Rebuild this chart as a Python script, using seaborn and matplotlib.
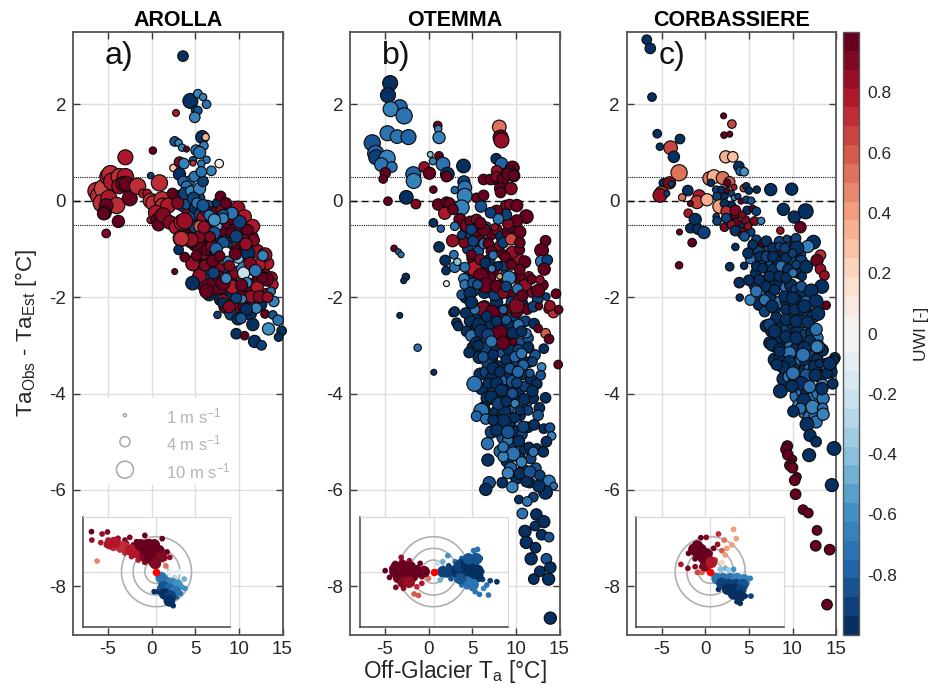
import numpy as np
import matplotlib
matplotlib.use('Agg')
import matplotlib.pyplot as plt
from matplotlib.cm import ScalarMappable
from matplotlib.colors import Normalize
from matplotlib.patches import Rectangle
import seaborn as sns

# panel a, Arolla
a_temp = [3.6,4.45,5.3,5.9,6.3,5.05,5.3,4.95,2.8,5.8,6.2,6.0,2.65,3.1,3.5,4.0,5.1,5.5,0.15,-3.0,
          4.75,6.3,7.75,2.5,3.2,3.7,4.75,5.7,6.85,-0.1,-6.3,-6.0,-5.5,-5.0,-4.7,-4.5,-5.7,-5.0,-4.9,-4.0,
          -3.7,-3.0,-3.7,-3.2,-2.9,-2.5,-1.6,-5.2,-5.4,-5.5,-3.8,-5.2,-1.0,-0.5,0.9,-0.1,0.2,1.2,1.3,1.9,
          -0.1,0.5,0.7,0.8,1.3,2.1,2.8,3.5,3.8,3.4,4.5,5.5,5.8,2.4,3.0,7.9,8.55,9.9,10.65,11.6,
          11.0,11.65,13.0,12.35,13.9,13.2,12.35,12.1,11.4,12.35,9.25,8.2,6.3,5.5,4.7,6.15,5.15,3.8,2.65,4.55,
          3.4,5.8,5.5,6.3,9.1,7.6,8.2,10.65,9.3,10.1,9.2,8.2,7.1,8.2,6.15,7.6,7.2,8.2,8.55,9.6,
          9.95,10.55,12.75,11.05,8.75,7.1,8.55,4.7,3.1,9.7,10.9,13.7,14.0,12.0,10.85,10.4,9.7,8.2,7.55,10.25,
          11.6,13.0,13.9,14.5,14.9,13.4,14.55,9.7,10.65,11.8,12.6,3.2,3.6,4.0,3.8,4.5,5.5,5.9,5.7,4.8,
          5.2,6.2,6.6,7.2,6.9,6.0,7.4,7.0,8.9,9.6,10.8,11.3,12.7,13.3,11.9,10.3,7.8,6.7,5.9,8.9]
a_diff = [3.0,2.07,2.22,2.15,2.0,1.88,1.87,1.73,1.82,1.32,1.32,1.14,1.23,1.2,1.1,1.07,1.05,1.0,1.04,0.9,
          0.84,0.85,0.77,0.68,0.8,0.77,0.78,0.77,0.62,0.52,0.2,0.1,0.25,0.5,0.55,0.4,-0.05,-0.1,0.05,-0.1,
          0.5,0.5,0.3,0.35,0.35,0.05,0.3,-0.1,-0.25,-0.27,-0.43,-0.68,0.15,0.15,0.37,0.0,-0.05,0.02,-0.1,-0.1,
          -0.4,-0.25,-0.4,-0.5,-0.3,-0.45,-0.55,-0.45,-0.42,-0.78,-0.82,-0.75,-0.5,0.15,-0.05,0.09,-0.05,-0.15,-0.33,-0.53,
          -0.62,-0.82,-1.12,-1.33,-1.74,-1.63,-1.57,-1.8,-1.99,-1.99,-1.79,-2.07,-1.88,-1.56,-1.31,-1.34,-1.14,-1.17,-1.47,-0.81,
          -0.79,-0.33,-0.53,-1.02,-0.67,-1.57,-1.71,-0.81,-0.39,-0.44,-0.26,-0.29,-0.42,-0.37,-0.15,-0.53,-0.67,-0.88,-1.07,-1.29,
          -1.19,-1.5,-1.14,-1.09,-1.26,-1.5,-1.61,-1.71,-1.02,-0.74,-1.7,-1.88,-2.09,-2.23,-2.26,-2.04,-2.02,-2.12,-2.37,-2.44,
          -2.57,-2.35,-2.37,-2.48,-2.7,-2.66,-2.83,-2.76,-2.8,-2.92,-3.0,0.55,0.4,0.3,0.15,0.2,0.25,0.4,0.6,0.05,
          -0.05,-0.2,-0.3,-0.4,-0.95,-0.55,-1.0,-1.25,-1.35,-1.1,-0.9,-1.3,-1.6,-2.0,-1.45,-1.75,-1.15,-0.75,-0.1,-2.2]
a_wind = [3,6,2,1.5,2,2,2,3,1.3,4.5,1.5,2,2.5,1.5,1.5,1,3,4,1.5,6,
          1.5,1.5,2,1.5,3,3,1,1.5,2.5,1.2,8,8,9,7,8,8,8,7,7,7,
          7,7,6,6,6,6,7,5,5,4,4,2,2,2,7,6,6,7,6,6,
          1.5,6,5,4,6,5,5,7,7,7,6,4,3,3,4,3,3,5,5,5,
          4,4,5,4,3,5,5,4,4,4,5,4,5,5,5,3.5,3,2.5,0.8,5,
          6,3,3.5,3,3,4,5,3,3,4.5,4,3,4,3,2,2,4,4,3,1.5,
          3,4,3,5,3,3.5,3,5,2.5,4,3,2,3,3,4,2,3,3,1.5,3,
          4,2,2,3,2.5,4,2,3,2,4,2.5,4,3,3,4,3,4,3,3,4,
          3,3,3,4,4,4,4,4,3,4,4,4,3,3,4,4,3,3,4,4]
a_uwi = [-.95,-.95,-.65,-.65,-.7,-.9,-.85,-.65,.75,-.95,.35,-.65,-.85,-.65,-.65,.95,-.7,-.7,.98,.8,
         -.85,-.7,.02,.25,.9,-.65,.7,-.7,-.65,-.9,.7,.7,.68,.75,.72,.78,.7,.75,.75,.7,
         .72,.75,.85,.9,.95,.95,.7,.95,.98,1,.98,.9,.75,.75,.72,.7,.7,.7,.72,.75,
         .75,.8,.95,.98,.9,.9,.8,.75,.85,.7,.8,.9,.7,.95,.9,.98,.95,.85,.75,.75,
         .95,.9,.85,.75,.75,.95,.98,.8,.85,.9,.75,.85,.98,.85,.85,.9,.98,.98,.98,.85,
         .72,.85,.6,.98,.98,.98,.98,.9,.95,-.9,-.75,-.85,-.6,-.65,-.7,-.5,-.85,-.85,-.05,-.15,
         -.4,-.25,-.65,-.95,-.65,-.9,-.65,-.95,-.95,-.9,-.65,-.75,-.65,-.65,-.95,-.65,-.9,-.95,-.9,-.85,
         -.95,.95,-.85,-.75,-.95,-.6,-.95,-.95,.98,-.95,-.9,-.95,-.8,-.7,-.9,-.65,-.65,-.9,-.7,-.9,
         -.7,-.9,-.75,-.6,.9,.85,-.8,.95,.9,.95,.85,.9,.95,.85,-.7,.95,.98,.9,-.85,.9]

a_more_temp = [3.1,3.6,4.2,4.7,5.3,5.9,6.4,7.0,7.6,8.1, 4.4,5.0,5.6,6.2,6.8,7.4,8.0,8.6,9.2,9.8,
               4.9,5.5,6.1,6.7,7.3,7.9,8.5,9.1,9.7,10.3, 6.0,6.6,7.2,7.8,8.4,9.0,9.6,10.2,10.8,11.4,
               7.9,8.5,9.1,9.7,10.3,10.9,11.5,12.1,12.7,13.3, 9.1,9.9,10.6,11.3,11.9,12.5,13.1,13.7,10.5,11.2,
               3.4,4.0,4.5,5.0,3.8,4.4,5.0,5.6,6.2,6.8, 4.3,4.9,5.5,6.1,5.3,5.9,6.5,7.1,7.7,8.3]
a_more_diff = [.1,-.1,-.25,-.35,-.5,-.55,-.1,-.25,-.05,-.2, -.65,-.9,-.7,-.8,-1,-.75,-.6,-.45,-.75,-.55,
               -1.25,-1.4,-1.15,-1.55,-1.3,-1.1,-.95,-1.25,-1.05,-.8, -1.75,-1.95,-1.7,-1.85,-1.45,-1.6,-1.5,-1.25,-1.05,-.75,
               -2.05,-2.2,-2.0,-2.25,-1.95,-1.75,-1.4,-1.05,-1.45,-1.3, -2.35,-2.45,-2.2,-2.35,-2.05,-2.15,-1.95,-1.6,-1.4,-1.75,
               .05,-.05,.1,-.15,-.65,-.75,-.55,-.3,-.35,-.6, .4,.5,.05,-.15,-.95,-1.1,-.75,-.95,-1.4,-1.2]
a_more_wind = [3,4,4,5,4,5,3,4,3,4, 5,5,4,5,4,5,5,4,5,5,
               4,5,5,5,5,5,5,4,5,5, 5,4,5,5,5,5,4,5,5,5,
               4,5,5,4,5,5,5,5,5,4, 4,4,4,4,4,4,4,4,5,5,
               4,4,3,4,5,5,4,4,4,4, 3,3,3,3,4,4,4,4,4,4]
a_more_uwi = [.95,-.9,.9,-.85,.95,-.9,-.8,.95,-.95,.9, .9,.95,-.9,.98,.85,-.95,.95,.98,-.9,.95,
              .95,.9,.98,-.9,.95,.9,-.9,.98,.95,.9, .95,-.95,.98,.95,-.85,.98,.9,-.9,.98,.85,
              -.95,.95,-.95,.9,.98,-.9,.95,.85,.9,.8, -.9,-.95,.95,-.95,-.85,-.95,.9,.85,-.65,.95,
              -.9,-.85,-.7,-.95,.9,.95,-.9,-.85,-.7,-.85, -.7,-.75,-.9,-.9,.98,.9,.95,-.8,.9,.65]

# panel b, Otemma
b_temp = [-4.4,-4.65,-3.3,-4.35,-2.8,-4.7,-3.6,-2.3,-6.45,-6.05,-6.0,-4.75,-5.4,-4.2,-4.95,-5.2,-1.75,-1.7,-2.55,-4.65,
          -1.45,-0.5,0.1,0.5,0.2,1.2,1.65,2.15,2.05,1.05,1.1,1.2,8.1,8.25,8.35,4.0,7.75,8.35,9.6,9.3,
          9.75,8.8,7.8,7.6,6.3,7.1,7.8,8.55,9.1,9.75,8.25,9.45,8.25,0.55,4.05,4.15,4.15,3.8,3.0,5.5,
          6.3,6.0,1.1,2.05,2.4,1.85,2.8,8.85,9.3,10.1,11.2,10.1,9.1,8.85,7.8,7.1,8.0,0.55,1.4,3.6,
          3.0,4.45,5.3,6.35,7.6,10.45,2.75,4.05,6.35,8.55,9.45,13.4,12.95,12.95,13.6,13.25,1.2,-3.95,-3.45,-3.15,
          1.9,2.0,3.0,3.3,2.9,-2.6,-2.85,2.05,-3.3,-1.25,0.6,5.25,6.0,10.3,9.6,11.0,6.55,6.25,7.3,8.15,
          8.55,9.2,11.1,12.55,14.6,14.3,14.9,13.4,13.8,12.55,10.1,4.75,5.5,4.9,5.9,3.8,5.1,6.85,7.2,4.9,
          5.9,6.5,7.4,8.45,8.8,8.0,7.25,8.15,4.15,4.05,4.15,3.8,5.1,4.75,5.6,7.8,8.55,8.9,10.2,10.75,
          11.5,10.55,11.8,12.75,12.0,12.65,13.5,13.9,10.45,9.5,10.45,10.45,2.8,3.0,3.2,3.4,4.35,4.9,4.25,5.3,
          4.9,5.75,6.05,6.8,7.2,5.5,6.65,7.8,8.9,8.55,10.3,11.2,10.65,9.7,11.45,13.2,10.3,4.65,5.7,6.85,
          12.95,12.85,11.4,11.9,11.9,13.4,10.95,6.05,5.5,6.55,8.65,8.55,12.55,11.4,13.2,13.9,14.1,13.5,13.15,11.5,
          6.75,6.8,9.1,7.8,9.7,8.55,10.65,9.1,10.45,11.6,12.75,13.8,14.35,13.4,12.65,6.95,6.55,8.45,9.6,11.2,
          12.0,10.35,11.3,10.75,12.35,13.2,12.2,11.05,12.95,13.8,11.2,12.25,11.75,13.5,13.95,12.75,12.05,13.75,13.95,14.85,
          6.25,7.4,8.9,9.9,10.65,10.85,11.6,7.4,8.15,9.3,10.25,6.85,7.8,8.35,9.6,10.1,7.2,8.0,8.9,9.9,
          9.9,10.85,10.45,7.4,9.1,10.35,8.55,12.0,5.25]
b_diff = [2.44,2.19,1.94,1.9,1.76,1.4,1.33,1.32,1.2,.98,.9,.88,.75,.7,.58,.45,.55,.41,.07,-.01,
          -.07,.7,.57,.82,.96,.93,.76,.55,.5,1.56,1.49,1.31,1.53,1.31,1.25,.72,.87,.77,.68,.6,
          .52,.55,.62,.44,.44,.44,.5,.45,.55,.52,.25,.25,.17,.23,.39,.27,.1,-.14,.22,.06,
          .11,-.12,-.08,-.03,-.05,-.26,-.18,-.1,-.08,-.1,-.33,-.42,-.48,-.29,-.22,-.25,-.38,-.46,-.58,-.39,
          -.53,-.52,-.43,-.6,-.55,-.65,-.83,-.87,-.89,-.87,-.8,-.83,-1.03,-1.26,-1.23,-1.42,-.96,-.99,-1.06,-1.12,
          -1.24,-1.45,-1.38,-1.27,-1.12,-1.58,-1.66,-1.72,-2.38,-3.05,-3.56,-1.41,-1.56,-1.21,-1.07,-1.27,-1.76,-2.25,-2.31,-2.73,
          -2.95,-1.6,-1.74,-1.87,-1.93,-2.32,-2.26,-2.75,-2.87,-2.65,-2.18,-.43,-.39,-.6,-.46,-.71,-.84,-.89,-1.05,-1.12,
          -1.22,-1.29,-1.13,-1.11,-1.17,-1.35,-1.41,-1.57,-1.38,-1.62,-1.74,-1.95,-1.71,-1.92,-1.74,-1.78,-1.92,-1.78,-1.83,-1.97,
          -1.57,-1.57,-1.63,-1.64,-2.2,-2.19,-1.99,-2.18,-1.43,-1.33,-1.02,-.87,-2.32,-2.3,-2.53,-2.6,-2.71,-2.8,-2.33,-2.26,
          -2.11,-2.57,-2.71,-2.78,-2.92,-2.95,-2.4,-2.5,-2.47,-2.26,-2.57,-2.75,-2.71,-2.93,-3.05,-3.07,-3.09,-3.15,-3.0,-3.34,
          -3.45,-3.62,-3.04,-3.34,-3.95,-4.09,-4.12,-4.36,-4.47,-4.53,-4.36,-4.59,-4.45,-4.35,-4.73,-4.71,-4.88,-5.0,-5.21,-5.11,
          -5.04,-5.38,-4.97,-4.76,-5.25,-5.31,-5.42,-5.65,-5.66,-5.63,-5.7,-5.82,-5.92,-6.05,-5.92,-5.85,-5.99,-5.85,-5.94,-5.83,
          -6.15,-6.2,-6.24,-6.49,-6.51,-6.66,-6.75,-6.86,-6.93,-6.98,-7.09,-7.2,-7.43,-7.43,-7.61,-7.69,-7.85,-7.85,-8.66,-3.4,
          -3.24,-3.2,-3.3,-3.24,-3.17,-3.41,-3.58,-3.48,-3.55,-3.48,-3.55,-3.79,-3.79,-3.93,-4.0,-3.78,-4.07,-4.21,-4.17,-4.21,
          -4.5,-4.69,-4.35,-4.55,-4.8,-4.99,-5.11,-5.21,-3.8]
b_wind = [6,6,6,6,7,6,5,6,7,7,6,7,5,3,3,2,6,6,5,2,
          2.5,3,4,1.5,1,2,5,5,3,2,1.5,4,5,6,6,5,3,4,5,4,
          4,4,3,3,3,3,3,4,4,3,4,4,3,1.5,4,5,6,6,1.5,2.5,
          3,3.5,3.5,3,3,4,3,3,3,4,5,4,3,3.5,4,3,3,2,1.5,4,
          2,5,4,4,1.5,4,4,3,3,3,3.5,3,5,4,3,4,3,1.2,1,1,
          3,2,3,1.5,2,1.5,1,1,1,1.5,1,6,6,3.5,4,4,6,6,5,6,
          5,5,4,4.5,2.5,3,2,2.5,2.5,2,6,3,3,3,3.5,2,3,3,3,2.5,
          3,3,2,2.5,3,2,1.5,1,2.5,3,2.5,2.5,3,4,2.5,4,3,3,3,3.5,
          2.5,2,2.5,2,3,1.5,1.5,3,3,3,2.5,3,2,2.5,2.5,2.5,3,3.5,3,2.5,
          4,4.5,5,4,3.5,4,3,3,2.5,2,3,2.5,3,1.5,3,2.5,3,3,3,5,
          2,2.5,3,2.5,3.5,3,3.5,6,3,3,4.5,6,3,2.5,2.5,2.5,2,3,3,2.5,
          4,4,3,4,5,3,3,3.5,3.5,4,3,4,1.5,5,4,4,4,3,3.5,3,
          2.5,2,2.5,3,3.5,4,2.5,4,3,2.5,4,3,4,3,3.5,3,3,4,4,2,
          3,3,3,3,3,3,2,4,3,3,3.5,3,4,4,3,3,4,4,3,2,
          3,3.5,2.5,3,4.5,3.5,3,2.5,6]
b_uwi = [-.95,-.95,-.8,-.65,-.75,-.75,-.7,-.8,-.85,-.8,-.9,-.65,-.7,-.7,.95,.98,-.8,-.65,-.95,.98,
         .9,.85,.95,-.65,-.4,.98,-.7,-.95,.98,.98,-.65,-.65,.5,.95,.85,-.95,-.95,-.8,.95,.98,
         .98,.95,.85,.98,.95,.98,.9,.98,.95,.98,.95,.9,.98,.98,-.9,-.75,-.65,-.65,-.8,.95,
         .95,-.85,.98,.95,.98,.75,.98,.9,.9,.98,.95,.98,.9,-.9,.95,-.9,-.75,-.95,-.8,.98,
         -.7,.9,.98,.95,.85,.98,.85,.9,-.75,-.9,.65,.98,.98,-.75,-.9,.98,-.95,.98,-.8,-.7,
         -.95,-.95,-.75,-.4,-.75,-.95,-.95,.02,-.95,-.7,-.95,.75,.98,.8,.85,.98,.98,.9,.98,.98,
         .95,-.65,.85,.98,.98,.7,.98,.6,.95,.98,.9,.98,.9,-.9,.95,-.9,-.9,.98,.95,.98,
         .9,-.95,-.7,.98,.98,-.95,-.65,.4,-.7,-.65,-.7,-.85,-.85,-.95,-.85,.98,.9,-.9,-.7,.98,
         .9,.98,.98,.85,-.9,.95,-.9,.85,.95,.98,.98,.98,-.85,-.95,-.95,-.95,-.95,-.7,-.95,-.7,
         -.95,-.95,-.95,-.9,-.7,-.95,-.95,-.95,-.85,-.8,-.75,-.7,-.95,.98,-.95,-.95,-.9,-.95,-.95,-.9,
         -.65,-.85,-.95,-.9,-.95,-.95,-.95,-.7,-.8,-.75,-.95,-.95,-.85,-.9,-.95,-.85,-.65,-.95,-.95,-.95,
         -.75,-.95,-.7,-.95,-.7,-.65,-.65,-.65,-.95,-.85,-.9,-.75,-.7,-.95,-.95,-.85,-.95,-.95,-.65,-.95,
         -.9,-.95,-.7,-.75,-.95,-.95,-.95,-.95,-.95,-.85,-.95,-.95,-.95,-.85,-.95,-.95,-.95,-.95,-.95,.98,
         -.85,-.95,-.95,-.8,-.7,-.8,-.85,-.95,-.95,-.85,-.8,-.95,-.95,-.95,-.85,-.9,-.95,-.9,-.95,-.65,
         -.95,-.9,-.95,-.95,-.85,-.95,-.7,-.7,-.75]

b_more_temp = [4.3,5.0,5.7,6.4,7.1,7.8,8.5,9.2,9.9,10.6, 4.8,5.5,6.2,6.9,7.6,8.3,9,9.7,10.4,11.1,
               5.1,5.8,6.5,7.2,7.9,8.6,9.3,10,10.7,11.4, 5.9,6.6,7.3,8,8.7,9.4,10.1,10.8,11.5,12.2,
               6.1,6.8,7.5,8.2,8.9,9.6,10.3,11,11.7,12.4, 6.3,7,7.7,8.4,9.1,9.8,10.5,11.2,12,12.7,
               7.2,7.9,8.6,9.3,10,10.7,11.4,12.1,8.2,9.0, 9.6,10.3,11,11.7,12.4,9.4,10.1,10.9,11.6,12.3,
               4.2,4.8,5.4,6,6.6,7.2,7.8,8.4,9,9.6, 4.5,5.1,5.7,6.3,6.9,7.5,8.1,8.7,9.3,9.9,
               4.6,5.2,5.8,6.4,7,7.6,8.2,8.8,9.4,10, 8.9,9.5,10.1,10.7,11.3,11.9,12.5,13.1,13.7,12.1]
b_more_diff = [-2.0,-2.15,-2.35,-2.2,-2.45,-2.1,-2.3,-2.6,-2.4,-2.2, -2.5,-2.65,-2.9,-2.55,-2.8,-2.6,-2.9,-2.75,-2.95,-2.5,
               -3.05,-3.25,-3.05,-3.3,-3.05,-3.15,-3.1,-3.35,-3.3,-2.85, -3.6,-3.55,-3.7,-3.45,-3.7,-3.6,-3.3,-3.6,-3.35,-3.2,
               -3.9,-4.1,-3.95,-4.1,-3.95,-3.75,-3.95,-3.85,-3.7,-3.8, -4.3,-4.45,-4.4,-4.5,-4.3,-4.15,-4.45,-4.2,-4.1,-4.3,
               -4.8,-4.65,-4.9,-4.65,-4.8,-4.85,-4.7,-4.65,-5.2,-5.4, -5.05,-5.3,-5.15,-5.35,-5.15,-5.55,-5.75,-5.6,-5.85,-5.55,
               -.55,-.7,-.65,-.85,-.55,-.7,-.6,-.75,-.65,-.55, -1,-1.2,-1.05,-1.4,-1.25,-1.45,-.95,-1.35,-1.1,-1.3,
               -1.55,-1.85,-1.6,-1.9,-1.6,-1.95,-1.75,-1.55,-1.95,-1.6, -2.25,-2.1,-2.3,-2.15,-2.25,-1.9,-2.05,-1.75,-2.25,-2.55]
b_more_wind = [4,4,4,4,4,4,4,4,3,3, 4,4,5,4,4,4,4,4,3,3,
               4,4,4,4,5,4,4,4,3,3, 4,4,5,4,4,4,4,3,3,3,
               4,5,4,5,4,4,4,3,3,3, 4,4,4,4,4,4,3,3,3,3,
               4,4,5,4,4,3,3,3,4,4, 4,4,3,3,3,4,4,4,3,3,
               3,3,3,4,3,3,3,4,3,3, 3,4,3,4,4,3,3,4,3,3,
               3,4,3,4,4,4,3,3,3,3, 3,3,4,4,3,3,3,3,2,3]
b_more_uwi = [-.95,-.9,-.95,-.85,-.95,-.95,.95,-.95,-.9,.98, -.95,-.95,-.8,-.95,-.9,-.95,.98,-.95,-.85,-.9,
              -.95,-.95,-.9,-.95,-.95,-.85,-.95,-.9,-.95,-.85, -.95,-.9,-.95,-.95,-.8,-.95,-.9,-.95,-.95,-.85,
              -.95,-.95,-.9,-.95,-.95,-.85,-.95,-.9,-.95,-.95, -.95,-.9,-.95,-.95,-.8,-.95,-.95,-.85,-.95,-.95,
              -.9,-.95,-.85,-.95,-.95,-.9,-.95,-.95,-.8,-.95, -.9,-.95,-.95,-.9,-.95,-.8,-.95,-.9,-.95,-.85,
              .98,-.9,.95,.98,-.85,.98,.9,-.95,.98,.95, -.9,.98,-.85,.95,-.95,.98,.9,-.9,.98,.95,
              -.95,-.85,.98,-.95,.95,-.9,.98,-.85,.95,.98, .98,-.9,.95,-.95,.98,.9,-.9,.98,.85,-.95]

# panel c, Corbassiere
c_temp = [-6.7,-6.3,-6.1,-5.5,-2.9,-5.2,-3.97,-3.6,-3.0,-4.8,-4.1,-3.9,-5.0,-5.2,-4.4,-2.65,-2.0,-0.7,-0.95,0.2,
          -1.7,-1.95,-1.15,-1.7,-0.85,-0.15,-2.95,-1.5,-3.0,2.1,3.05,2.15,2.8,2.35,3.15,3.85,4.0,4.45,0.5,1.0,
          2.0,2.8,0.65,2.5,3.3,4.4,4.7,5.0,5.9,7.5,9.9,1.25,1.85,1.35,2.2,2.5,3.0,3.3,3.75,1.65,
          2.2,2.4,3.45,4.1,4.7,5.25,4.2,5.45,5.85,1.25,1.35,2.4,3.0,3.45,5.65,4.9,4.1,6.4,8.95,11.5,
          10.2,10.9,8.6,10.4,9.35,12.1,12.4,11.75,10.5,13.2,12.8,13.2,13.65,13.35,13.85,3.45,2.8,4.45,3.9,3.95,
          5.15,5.0,4.5,5.85,5.45,6.6,7.0,7.75,8.5,9.1,4.9,6.2,7.0,7.75,9.25,10.0,11.0,11.55,5.85,6.6,
          7.75,8.7,9.5,10.4,6.2,7.35,8.5,9.25,10.05,11.1,5.85,7.0,7.95,9.1,10.0,11.0,12.15,6.8,7.65,8.15,
          9.25,10.25,11.35,12.7,12.9,7.35,7.95,9.25,10.4,11.75,12.7,9.25,10.4,11.95,12.9,7.65,8.5,9.65,11.35,14.85,
          8.5,9.65,11.2,12.8,8.9,10.05,11.55,12.6,13.95,13.1,11.0,11.95,13.45,11.3,12.3,10.9,12.7,13.45,8.6,10.1,
          9.95,8.2,14.75,14.25,14.6,13.35,13.5,11.65,12.0,12.7,14.75,11.9,14.5,9.4,9.25,9.45,10.05,9.7,10.0,10.5,
          10.25,10.35,11.2,11.8,12.8,12.65,14.25,13.95]
c_diff = [3.34,3.16,2.15,1.39,1.28,1.12,1.1,.91,.58,.37,.37,.35,.16,.11,.15,.07,.21,.1,-.03,.02,
          -.06,-.26,-.39,-.57,-.59,-.66,-.65,-.87,-1.34,1.76,1.59,1.36,1.38,.91,.91,.71,.61,.6,.46,.5,
          .47,.39,.37,.37,.28,.26,.3,.21,.23,.23,.24,.23,.23,.09,.09,.21,.15,.06,.09,-.12,
          -.06,-.22,-.2,-.01,.02,0,-.29,-.17,-.22,-.33,-.42,-.36,-.5,-.62,-.42,-.53,-.71,-.42,-.18,-.22,
          -.34,-.55,-.62,-.78,-.79,-.86,-.86,-.95,-.98,-1.13,-1.24,-1.42,-1.55,-1.78,-2.17,-.96,-1.37,-1.35,-1.7,-2.01,
          -2.06,-1.65,-.74,-.81,-.91,-.88,-.84,-.98,-.95,-.98,-1.09,-1.16,-1.16,-1.16,-1.19,-1.09,-1.26,-1.37,-1.36,-1.4,
          -1.43,-1.36,-1.43,-1.33,-1.64,-1.57,-1.57,-1.6,-1.5,-1.57,-1.88,-1.78,-1.85,-1.99,-2.02,-1.78,-1.87,-2.06,-2.19,-2.43,
          -2.26,-2.26,-2.19,-2.09,-2.34,-2.57,-2.71,-2.47,-2.5,-2.52,-2.67,-2.82,-2.85,-2.92,-3.03,-2.99,-3.09,-3.16,-3.06,-3.26,
          -3.13,-3.34,-3.2,-3.03,-3.45,-3.58,-3.62,-3.62,-3.58,-3.38,-3.79,-3.86,-3.83,-4.14,-4.28,-4.31,-4.59,-4.31,-3.95,-4.37,
          -3.85,-3.4,-3.31,-3.38,-3.8,-3.9,-4.43,-4.64,-4.87,-5.0,-5.14,-5.28,-5.9,-5.09,-5.16,-5.27,-5.36,-5.49,-5.54,-5.73,
          -5.8,-6.09,-6.41,-6.48,-6.84,-7.16,-7.24,-8.38]
c_wind = [2.5,3,2,2,2.5,1.5,5,3.5,7,2,4,.8,5,5,1,1.5,3,4,4.5,4,
          1,2,4,2.5,3,4,1,2,1.5,1,2,1.2,.6,4,3,3,2,2,5,5,
          4.5,3,1.5,1.5,1,1.5,1.5,1.5,1.5,4,4,1.5,1.5,2,1.5,1,1.2,1,1,5,
          2,3,3,1,1.5,1.5,1.5,1.5,2,1.2,2,2.5,2,3,2,1.5,1.2,1.5,4,6,
          4,3.5,1.5,2.5,1.5,2,5,4,5,3,4,3,2.5,5,2,1.5,2,1.5,3,1.5,
          3,3,2.5,2.5,2.5,2,3,3,2,2.5,3,2.5,3,3,3,2,4,4.5,2.5,2.5,
          3.5,3,3.5,2,3,3,3,3,2,2,3.5,3,3,3.5,4,3,5,3,4,3.5,
          3,3.5,4.5,5,5,3.5,4.5,3.5,4,4,4,4,4,4,5,4,4,4.5,4.5,3,
          3,4,5,4,4,4.5,4,4,3,2,5,4,4,5,5,3,4,3,5,3.5,
          4,3.5,2.5,4.5,3,4,4,5,4,3,5,4.5,4.5,3,3,3,1.5,3,3,2,
          3,3,2.5,2.5,2.5,3,3,3]
c_uwi = [-.95,-.95,-.95,-.95,-.95,-.95,.65,-.95,.5,-.95,.9,-.9,.7,.85,-.9,.55,-.95,.8,.65,.35,
         .98,.8,-.95,-.95,-.95,-.9,.98,.98,.98,.98,.65,.98,.98,.35,.25,-.95,-.8,-.6,.55,.35,
         .55,.6,-.95,.98,.8,.65,-.95,-.95,-.95,-.95,-.95,-.9,-.95,-.9,-.95,.98,-.9,-.65,-.9,.4,
         -.95,.7,.9,.98,-.9,-.85,.9,.95,-.9,-.9,-.9,-.9,.85,-.95,.9,.85,.95,-.65,-.95,-.95,
         -.95,.95,.85,-.9,-.9,.9,-.95,-.65,-.95,.7,.95,.85,.85,-.95,.98,-.95,-.95,-.95,-.95,-.95,
         -.65,-.95,-.85,-.9,-.95,.95,-.95,-.95,-.9,-.9,-.95,-.95,-.9,-.95,-.95,-.9,-.9,-.95,-.95,-.95,
         -.95,-.7,-.95,-.9,-.95,-.95,-.95,-.95,-.7,-.95,-.75,-.95,-.95,-.95,-.95,-.85,-.95,-.75,-.95,-.95,
         -.95,-.95,-.95,-.95,-.95,-.9,-.95,-.95,-.95,-.95,-.75,-.95,-.95,-.95,-.65,-.95,-.95,-.75,-.95,-.95,
         -.95,-.95,-.75,-.65,-.95,-.75,-.85,-.95,-.95,-.95,-.95,-.75,-.65,-.95,-.65,-.75,-.7,-.75,-.95,-.95,
         -.95,-.95,-.95,-.95,-.95,-.95,-.65,-.95,-.95,-.95,-.95,-.95,-.95,.98,.98,.98,.98,.95,.95,.98,
         .95,.95,.98,.98,.98,.95,.98,.95]

c_more_temp = [5.5,6.1,6.7,7.3,7.9,8.5,9.1,9.7,10.3,10.9, 5.2,5.8,6.4,7,7.6,8.2,8.8,9.4,10,10.6,
               5.6,6.2,6.8,7.4,8,8.6,9.2,9.8,10.4,11, 6.2,6.8,7.4,8,8.6,9.2,9.8,10.4,11,11.6,
               7,7.6,8.2,8.8,9.4,10,10.6,11.2,11.8,12.4, 7.4,8,8.6,9.2,9.8,10.4,11,11.6,12.2,12.8,
               8,8.6,9.2,9.8,10.4,11,11.6,12.2,12.8,13.4, 9,9.6,10.2,10.8,11.4,12,12.6,13.2,13.8,14.4,
               10.5,11.1,11.7,12.3,12.9,13.5,10.8,11.4,12,12.6, 2.2,2.8,3.4,4,4.6,5.2,3,3.6,4.2,4.8]
c_more_diff = [-.95,-1.05,-1.15,-.95,-1.1,-.85,-1.1,-.85,-.9,-1.1, -1.2,-1.5,-1.3,-1.4,-1.3,-1.25,-1.5,-1.3,-1.25,-1.5,
               -1.75,-1.9,-1.65,-1.85,-1.7,-1.7,-1.8,-1.75,-1.85,-1.95, -2.15,-2.3,-2,-2.25,-2.1,-2.1,-2.3,-2.05,-2.3,-2.1,
               -2.6,-2.7,-2.55,-2.6,-2.65,-2.55,-2.7,-2.5,-2.35,-2.4, -2.95,-3,-2.9,-3.05,-3.0,-3.1,-2.9,-2.8,-2.75,-2.85,
               -3.3,-3.25,-3.45,-3.2,-3.4,-3.3,-3.35,-3.2,-3.3,-3.1, -3.7,-3.65,-3.8,-3.6,-3.55,-3.5,-3.45,-3.65,-3.4,-3.55,
               -4.05,-3.95,-4.0,-4.1,-4.0,-4.1,-4.25,-4.4,-4.5,-4.45, -.55,-.45,-.3,-.5,-.4,-.65,-.1,-.45,-.65,-.2]
c_more_wind = [3,3,3,3,3,3,3,3,3,3, 3,3,3,3,3,3,3,3,3,3,
               3,4,3,4,3,4,3,4,3,4, 4,3,4,3,4,3,4,3,4,4,
               4,4,4,4,4,4,4,4,4,4, 4,5,4,5,4,5,4,5,4,4,
               5,4,5,4,5,4,5,4,4,4, 5,4,5,4,5,4,5,4,4,4,
               5,4,5,4,4,4,5,4,5,4, 2,2,2,2,2,2,2,2,2,2]
c_more_uwi = [-.95,-.9,-.95,-.85,-.95,-.9,-.95,-.85,-.95,-.9, -.7,-.95,-.9,-.95,-.85,-.95,-.7,-.95,-.9,-.95,
              -.95,-.75,-.95,-.9,-.95,-.95,-.7,-.95,-.9,-.95, -.95,-.9,-.95,-.95,-.75,-.95,-.9,-.95,-.95,-.8,
              -.95,-.95,-.7,-.95,-.9,-.95,-.95,-.75,-.95,-.9, -.95,-.9,-.95,-.95,-.7,-.95,-.95,-.9,-.95,-.75,
              -.95,-.95,-.75,-.95,-.95,-.7,-.95,-.9,-.95,-.95, -.95,-.7,-.95,-.7,-.95,-.75,-.95,-.95,-.7,-.95,
              -.75,-.7,-.95,-.65,-.7,-.75,-.65,-.7,-.75,-.7, .9,-.9,.95,-.95,.9,-.9,-.95,.98,.9,-.95]

# insets, wind components
a_in_u = [-5.57,-5.54,-5.09,-4.66,-4.2,-4.77,-4.14,-3.71,-3.29,-2.71,-2.29,-1.71,-1,.49,.91,1.14,.8,-4.29,-3.71,-3.14,
          -2.71,-2.14,-1.57,-3.43,-2.86,-2.29,-1.71,-1.14,-.57,0,-1.14,-.57,0,.43,-.86,-.29,.29,.71,-.43,.14,
          -1.43,-2,-2.57,-3.14,-3.86,-1.43,-1,-1.86,.29,.86,1.43,2.14,2.43,.43,1,1.57,2.06,.57,1.14,1.71,
          .71,1.29,1,1.43,1.14,.86,1.43,-.2,.14,2.37,1.57,1.94,1.14,1.86,.3,.7]
a_in_v = [3.43,2.71,.91,3.23,3.4,2.49,2.71,2.71,2.86,2.71,2.94,2.57,3.11,2.83,1.69,1.23,.49,2.29,2,1.86,
          1.6,1.29,1,2.43,2.2,1.91,1.71,2.43,2.57,2.43,1.86,1.86,1.86,1.86,1.29,1.29,1.29,1.14,.71,.71,
          2.14,2.29,2.43,2.43,2.57,1.43,.8,1.43,-.43,-.71,-1,-1.29,-1.43,-1,-1.29,-1.57,-1.86,-1.57,-1.86,-2.14,
          -2.14,-2.29,-2.57,-2.91,-2.71,-1.7,-2.3,-1.71,-1.71,-.63,-.49,0,-.09,-.9,-1.4,-1.1]
a_in_uwi = [.95,.85,.45,.85,.9,.8,.8,.85,.85,.9,.9,.95,.98,.98,.95,.85,.5,.75,.7,.7,
            .72,.75,.8,.8,.8,.85,.88,.98,.98,.98,.97,.98,.98,.95,.95,.98,.95,.85,.9,.9,
            .98,.92,.88,.82,.78,.9,.92,.85,-.7,-.6,-.6,-.6,-.6,-.8,-.75,-.7,-.7,-.9,-.85,-.85,
            -.95,-.92,-.95,-.95,-.95,-.85,-.92,-.95,-.95,-.45,-.3,-.1,-.08,-.7,-.9,-.75]

b_in_u = [.57,1.14,1.71,2.29,2.86,3.43,1.14,1.86,2.43,3,3.57,4.14,1.86,2.43,3,3.57,3.77,3.43,2.29,3,
          3.57,4,2,2.57,3.14,3.71,2.86,3.29,3.57,3.94,4.71,4.29,4.57,4.2,4.86,5.43,1.23,.29,.8,.57,
          2.43,-1.14,-1.71,-2.29,-2.86,-3.29,-.57,-1,-1.57,-2.14,-2.71,-3.14,-2,-2.57,-3.14,-3.43,-4.14,-3.77,-3.57,-3.29,
          -2.77,-2.71,-2.06,-2.57,-3.23,-1.43,-1,-1.66,-1.29,-.43,-1.86,-2.43,-1.14,1.3,2.6,3.3,3.9,1.5,-1.4,-2.5,
          -1.8,-2.9]
b_in_v = [0,.14,.29,.43,.43,.57,-.29,-.29,-.14,-.14,0,0,.86,1.14,1.29,1.43,1.91,1.8,.86,.86,
          1,1.14,-.71,-.71,-.66,-.57,-1.29,-1.43,-1.71,-1.94,-2,-1.43,-1.14,-.66,-.77,-.86,1.37,.71,.86,-.71,
          -1.14,0,.14,0,-.14,-.14,0,-.43,-.43,-.57,-.57,-.43,.43,.43,.43,.29,.09,-.49,.29,.71,
          1.23,.86,.94,-1.43,-1.34,-1.29,-1,-1.91,-2.03,-.57,-1,-1,.71,.5,.9,.2,.3,-.6,.35,-.3,
          .55,-.75]
b_in_uwi = [-.9,-.85,-.9,-.95,-.95,-.95,-.85,-.95,-.95,-.95,-.95,-.9,-.7,-.8,-.8,-.8,-.75,-.7,-.9,-.95,
            -.95,-.95,-.8,-.95,-.95,-.95,-.7,-.75,-.7,-.7,-.7,-.65,-.75,-.9,-.9,-.95,-.6,-.2,-.5,-.5,
            -.75,.98,.98,.98,.98,.98,.9,.9,.95,.98,.95,.98,.98,.98,.98,.98,.98,.98,.98,.9,
            .85,.9,.85,.85,.9,.7,.75,.6,.6,.55,.85,.9,.98,-.9,-.95,-.95,-.95,-.85,.98,.98,
            .98,.95]

c_in_u = [.57,1.14,1.71,2.29,2.86,3.43,.86,1.43,2.14,2.71,3.14,1.29,1.86,2.43,2.86,1.71,2.29,3.49,3,2.57,
          2.29,2.71,.29,.71,1.29,.86,2,1.57,1,1.6,2.1,-.29,-.71,-.57,-1,-1.29,-1.57,-.86,-.29,.14,
          .43,0,-1.14,-.8,-.34,-1.14,-1.86,-2.51,-1.91,-1.29,-1.09,-.71,.71,1.2,2,2.23,1.86,1.43,1,.63,
          .29,1.29,1,-.6,-.9,-1.3,-.4,-.75]
c_in_v = [-.43,-.57,-.43,-.49,-.49,-.57,-.86,-1,-1,-1,-1,-1.43,-1.43,-1.43,-1.57,-1.86,-1.91,-2.09,-2.09,-2.71,
          -2.57,-2.29,-.29,-1.51,.29,.2,.2,.14,-1.2,-1.15,-1.55,.43,.43,1,1.29,1.71,2.09,1.86,1.29,.86,
          1,1.57,2,2.91,2.94,2.43,1.57,.63,.29,.43,-.06,-.06,3.23,2.71,3.63,2.83,2.29,2,1.8,2.34,
          2,1.43,.77,.7,1.6,1.1,1.5,1.1]
c_in_uwi = [-.8,-.8,-.7,-.7,-.7,-.65,-.85,-.9,-.9,-.85,-.8,-.95,-.95,-.95,-.9,-.95,-.95,-.9,-.95,-.95,
            -.95,-.95,-.7,-.95,-.5,-.4,-.6,-.35,-.9,-.92,-.92,.9,.95,.95,.98,.98,.95,.98,.9,.8,
            .65,.85,.98,.95,.9,.95,.98,.8,.9,.9,.65,.6,.7,.5,.4,.4,.4,.4,.6,.85,
            .95,.4,.2,.95,.98,.98,.95,.98]

# the solid middle of each inset cloud
a_core_u = [-4,-3.4,-2.8,-2.2,-1.6,-1,-3.6,-1.4,-.8,-.2,-1,-.4,.2,-.6,0,.4,-.1,.4,.8,1.3,1.8,.6,1.1,1.6,.7,1.2,1.1]
a_core_v = [2.4,2.3,2.1,1.85,1.6,1.3,2.5,2.3,2.3,2.3,1.9,1.8,1.8,1.2,1.2,1.3,.7,-.5,-.9,-1,-1.2,-1.3,-1.5,-1.7,-1.9,-2.1,-2.5]
a_core_uwi = [.75,.72,.72,.75,.8,.88,.8,.98,.98,.98,.97,.98,.98,.95,.98,.93,.9,-.7,-.7,-.65,-.6,-.85,-.8,-.72,-.95,-.92,-.95]

b_core_u = [.8,1.4,2,2.6,3.2,3.8,2.2,2.8,3.4,3.7,2.6,3.2,3.8,3,2.9,3.4,2.3,-.8,-1.3,-1.8,-2.3,-2.8,-3.3,-1.8,-2.4,-3,-2,-2.6,-3.2,-2.6,-2.1]
b_core_v = [0,.05,.1,.1,.1,.1,.5,.6,.7,1.1,-.4,-.4,-.4,1.1,-.9,-1.1,-.6,0,0,0,.05,.1,0,-.4,-.5,-.5,.4,.5,.4,-.9,-.9]
b_core_uwi = [-.88,-.92,-.95,-.95,-.95,-.95,-.92,-.95,-.95,-.82,-.95,-.95,-.95,-.85,-.75,-.72,-.85,.98,.98,.98,.98,.98,.98,.98,.98,.98,.98,.98,.98,.9,.85]

c_core_u = [.6,1.1,1.7,2.3,2.9,1,1.6,2.2,2.8,1.5,2.1,2.6,2,2.5,-.4,-.2,-.6,-1,-1.4,-.8,-.3,.1,-1.1]
c_core_v = [-.6,-.6,-.6,-.6,-.7,-1,-1.1,-1.1,-1.1,-1.5,-1.5,-1.6,-1.9,-2.1,.5,1,1.2,1.5,1.9,1.9,1.5,.8,2.2]
c_core_uwi = [-.75,-.75,-.7,-.68,-.65,-.88,-.9,-.88,-.85,-.95,-.95,-.92,-.95,-.95,.9,.92,.97,.98,.98,.98,.95,.75,.95]

circle_radii = [1, 2, 3]
legend_wind = [1, 4, 10]
legend_y = [-4.45, -5.0, -5.58]
legend_labels = ['1 m s$^{-1}$', '4 m s$^{-1}$', '10 m s$^{-1}$']
titles = ['AROLLA', 'OTEMMA', 'CORBASSIERE']
letters = ['a)', 'b)', 'c)']

sns.set_style('white')
plt.rcParams['font.family'] = ['Liberation Sans', 'DejaVu Sans']
plt.rcParams['mathtext.fontset'] = 'custom'
plt.rcParams['mathtext.rm'] = 'Liberation Sans'
plt.rcParams['mathtext.default'] = 'regular'
plt.rcParams['axes.unicode_minus'] = False

W, H = 932, 699
cmap = plt.get_cmap('RdBu_r', 32)
dark = '#3c3c3c'
text_col = '#262626'


def px_axes(fig, left, right, top, bottom):
    return fig.add_axes([left / W, 1 - bottom / H, (right - left) / W, (bottom - top) / H])


fig = plt.figure(figsize=(W / 100, H / 100), dpi=100)

main_data = [(a_more_temp + a_temp, a_more_diff + a_diff, a_more_wind + a_wind, a_more_uwi + a_uwi),
             (b_more_temp + b_temp, b_more_diff + b_diff, b_more_wind + b_wind, b_more_uwi + b_uwi),
             (c_more_temp + c_temp, c_more_diff + c_diff, c_more_wind + c_wind, c_more_uwi + c_uwi)]
inset_data = [(a_in_u, a_in_v, a_in_uwi, a_core_u, a_core_v, a_core_uwi),
              (b_in_u, b_in_v, b_in_uwi, b_core_u, b_core_v, b_core_uwi),
              (c_in_u, c_in_v, c_in_uwi, c_core_u, c_core_v, c_core_uwi)]
lefts = [73, 350, 626.7]

for i in range(3):
    ax = px_axes(fig, lefts[i], lefts[i] + 209.5, 32, 634.5)
    temp, diff, wind, uwi = main_data[i]

    ax.set_axisbelow(True)
    ax.grid(True, color='#dedede', lw=1)
    ax.axhline(0, color='#111111', ls=(0, (5, 3)), lw=1, zorder=1)
    ax.axhline(0.5, color='#111111', ls=(0, (1, 1)), lw=0.8, zorder=1)
    ax.axhline(-0.5, color='#111111', ls=(0, (1, 1)), lw=0.8, zorder=1)

    # wind speed legend sits on a white box in the first panel
    if i == 0:
        ax.add_patch(Rectangle((-8.5, -5.9), 16.5, 1.8, fc='white', ec='none', zorder=1.5))
        sns.scatterplot(x=[-3.05, -3.05, -3.05], y=legend_y, size=legend_wind, sizes=(5, 150), size_norm=(1, 10),
                        facecolor='none', edgecolor='#a8a8a8', linewidth=1.1, legend=False, ax=ax, zorder=2)
        for y, label in zip(legend_y, legend_labels):
            ax.text(1.6, y - 0.03, label, color='#b4b4b4', fontsize=12, va='center', zorder=3)

    sns.scatterplot(x=temp, y=diff, hue=uwi, palette=cmap, hue_norm=(-1, 1), size=wind, sizes=(18, 195),
                    size_norm=(1, 10), edgecolor='#0d0d0d', linewidth=0.85, legend=False, ax=ax,
                    clip_on=False, zorder=3)

    ax.set_xlim(-9, 15)
    ax.set_ylim(-9, 3.5)
    ax.set_xticks([-5, 0, 5, 10, 15])
    ax.set_yticks([-8, -6, -4, -2, 0, 2])
    ax.tick_params(direction='in', length=5, width=1, color=dark, labelcolor=text_col, labelsize=13.5,
                   top=True, right=True, bottom=True, left=True, pad=5)
    for s in ax.spines.values():
        s.set_color('#555555')
        s.set_linewidth(1.3)
    ax.set_title(titles[i], fontweight='bold', fontsize=15.5, color='black', pad=4)
    ax.text(0.152, 0.96, letters[i], transform=ax.transAxes, fontsize=23, color='#111111', va='center', zorder=5)
    if i == 0:
        ax.set_ylabel('Ta$_{Obs}$ - Ta$_{Est}$ [°C]', fontsize=16, color=text_col, labelpad=7)
    if i == 1:
        ax.set_xlabel('Off-Glacier T$_a$ [°C]', fontsize=16.3, color=text_col, labelpad=0)

    # inset with the wind components
    il = lefts[i] + 9.5
    ins = px_axes(fig, il, il + 148, 516.7, 626.7)
    ins.set_zorder(6)
    u, v, c, core_u, core_v, core_c = inset_data[i]
    sns.scatterplot(x=u, y=v, hue=c, palette=cmap, hue_norm=(-1, 1), s=17, linewidth=0, legend=False, ax=ins, zorder=3)
    sns.scatterplot(x=core_u, y=core_v, hue=core_c, palette=cmap, hue_norm=(-1, 1), s=70, linewidth=0, legend=False,
                    ax=ins, zorder=3)
    theta = np.linspace(0, 2 * np.pi, 200)
    for r in circle_radii:
        ins.plot(r * np.cos(theta), r * np.sin(theta), color='#b0b0b0', lw=1.2, zorder=2)
    ins.scatter([0], [0], s=30, color='#ff0000', linewidth=0, zorder=4)
    ins.set_xlim(-6.34, 6.34)
    ins.set_ylim(-4.71, 4.71)
    ins.set_xticks([0])
    ins.set_yticks([0])
    ins.set_xticklabels([])
    ins.set_yticklabels([])
    ins.set_axisbelow(True)
    ins.grid(True, color='#dedede', lw=1)
    ins.tick_params(direction='in', length=3, width=1, color=dark)
    ins.spines['top'].set_color('#d8d8d8')
    ins.spines['right'].set_color('#d8d8d8')
    ins.spines['left'].set_color('#444444')
    ins.spines['bottom'].set_color('#444444')
    ins.spines['left'].set_linewidth(1.1)
    ins.spines['bottom'].set_linewidth(1.1)

# colour bar
cax = px_axes(fig, 843, 859, 32, 635)
sm = ScalarMappable(norm=Normalize(-1, 1), cmap=cmap)
cb = fig.colorbar(sm, cax=cax, ticks=[-.8, -.6, -.4, -.2, 0, .2, .4, .6, .8])
cb.ax.set_yticklabels(['-0.8', '-0.6', '-0.4', '-0.2', '0', '0.2', '0.4', '0.6', '0.8'])
cb.ax.tick_params(direction='in', length=3, width=0.8, color=dark, labelcolor=text_col, labelsize=12.5, pad=6)
cb.outline.set_edgecolor('#555555')
cb.outline.set_linewidth(1)
cb.set_label('UWI [-]', fontsize=12.5, color=text_col, labelpad=12)

fig.savefig('out.png', dpi=100)
